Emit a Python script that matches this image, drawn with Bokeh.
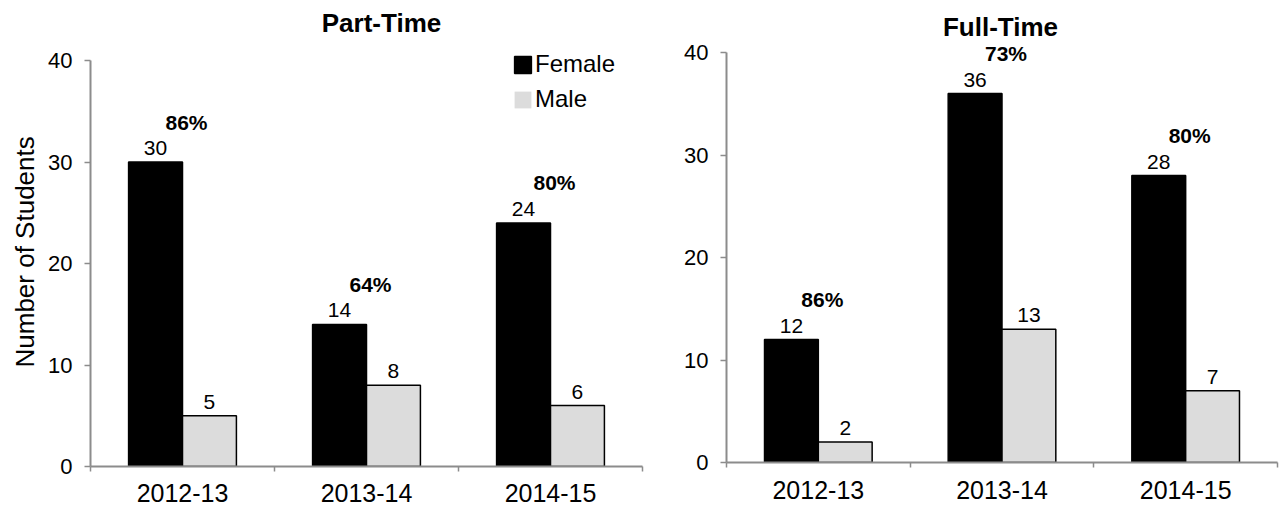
import numpy as np
from bokeh.plotting import figure
from bokeh.layouts import row, column
from bokeh.models import (ColumnDataSource, FixedTicker, Legend, LegendItem,
                          Label, Title)
from bokeh.core.properties import value
from bokeh.embed import file_html
from bokeh.resources import INLINE

# Enrolment by gender, per academic year
years = ["2012-13", "2013-14", "2014-15"]
part_time_female = [30, 14, 24]
part_time_male = [5, 8, 6]
full_time_female = [12, 36, 28]
full_time_male = [2, 13, 7]
y_ticks = [0, 10, 20, 30, 40]
y_max = 40

FONT = "Liberation Sans"
BAR_W = 0.293
FEMALE_COLOR = "#000000"
MALE_COLOR = "#dcdcdc"
AXIS_COLOR = "#8c8c8c"
BASELINE_FIX = 9  # svg text sits a little low with the alphabetic baseline


def build_panel(name, female, male, *, width, border_left, border_right,
                plot_bottom, y_top_px, title_dx, title_baseline, x_standoff,
                y_label=None, legend_at=None):
    centers = np.arange(len(years)) + 0.5
    src = ColumnDataSource(dict(
        cx=centers,
        fx=centers - BAR_W / 2,
        mx=centers + BAR_W / 2,
        female=female,
        male=male,
        flab=[str(v) for v in female],
        mlab=[str(v) for v in male],
        pct=[f"{round(100 * f / (f + m))}%" for f, m in zip(female, male)],
    ))

    # frame runs to the top edge; the axis itself stops at y_max
    px_per_unit = (plot_bottom - y_top_px) / y_max
    y_end = plot_bottom / px_per_unit

    p = figure(width=width, height=508, x_range=(0, len(years)), y_range=(0, y_end),
               output_backend="svg", toolbar_location=None,
               min_border_left=border_left, min_border_right=border_right,
               min_border_top=0, min_border_bottom=508 - plot_bottom)
    p.outline_line_color = None
    p.xgrid.visible = False
    p.ygrid.visible = False
    p.background_fill_color = "white"
    p.border_fill_color = "white"

    # bars
    fbars = p.vbar(x="fx", top="female", width=BAR_W, source=src,
                   fill_color=FEMALE_COLOR, line_color=FEMALE_COLOR, line_width=1.5)
    mfill = p.vbar(x="mx", top="male", width=BAR_W, source=src,
                   fill_color=MALE_COLOR, line_alpha=0)
    p.vbar(x="mx", top="male", width=BAR_W, source=src,
           fill_alpha=0, line_color="black", line_width=1.5)

    # value labels
    txt = dict(text_font=value(FONT), text_font_size="21px", text_color="black",
               text_align="center", text_baseline="alphabetic", source=src)
    p.text(x="fx", y="female", text="flab", y_offset=-5 - BASELINE_FIX, **txt)
    p.text(x="mx", y="male", text="mlab", y_offset=-5 - BASELINE_FIX, **txt)
    p.text(x="cx", y="female", text="pct", x_offset=4, y_offset=-31 - BASELINE_FIX,
           text_font_style="bold", **txt)

    # x axis: category labels between boundary ticks
    xa = p.xaxis[0]
    xa.ticker = FixedTicker(ticks=list(centers),
                            minor_ticks=list(range(len(years) + 1)))
    xa.major_label_overrides = {float(c): y for c, y in zip(centers, years)}
    xa.major_tick_line_color = None
    xa.major_tick_out = 0
    xa.major_tick_in = 0
    xa.minor_tick_line_color = AXIS_COLOR
    xa.minor_tick_line_width = 1.5
    xa.minor_tick_out = 5
    xa.minor_tick_in = 0
    xa.axis_line_color = AXIS_COLOR
    xa.axis_line_width = 2
    xa.major_label_text_font = FONT
    xa.major_label_text_font_size = "25px"
    xa.major_label_text_color = "black"
    xa.major_label_standoff = x_standoff

    ya = p.yaxis[0]
    ya.bounds = (0, y_max)
    ya.ticker = FixedTicker(ticks=y_ticks)
    ya.major_tick_line_color = AXIS_COLOR
    ya.major_tick_line_width = 1.5
    ya.major_tick_out = 6
    ya.major_tick_in = 0
    ya.minor_tick_line_color = None
    ya.axis_line_color = AXIS_COLOR
    ya.axis_line_width = 2
    ya.major_label_text_font = FONT
    ya.major_label_text_font_size = "22px"
    ya.major_label_text_color = "black"
    ya.major_label_standoff = 12

    if y_label:
        # vertical caption centred on the 0-40 span of the axis
        p.add_layout(Title(text=y_label, align="left", offset=99, standoff=12,
                           vertical_align="bottom", text_font=FONT,
                           text_font_size="26px", text_font_style="normal",
                           text_color="black"), "left")

    # panel title, placed relative to the frame
    p.add_layout(Label(x=title_dx, y=plot_bottom - title_baseline + BASELINE_FIX,
                       x_units="screen", y_units="screen",
                       text=name, text_font=FONT, text_font_size="26px",
                       text_font_style="bold", text_align="center",
                       text_baseline="alphabetic", text_color="black"))

    if legend_at is not None:
        leg = Legend(items=[LegendItem(label="Female", renderers=[fbars]),
                            LegendItem(label="Male", renderers=[mfill])],
                     location=legend_at, orientation="vertical",
                     glyph_width=21, glyph_height=21, label_height=21,
                     label_standoff=2, spacing=7, padding=0, margin=0,
                     label_text_font=FONT, label_text_font_size="24px",
                     label_text_color="black",
                     background_fill_alpha=0, border_line_alpha=0)
        p.add_layout(leg)
    return p


part = build_panel("Part-Time", part_time_female, part_time_male,
                   width=660, border_left=90, border_right=18,
                   plot_bottom=466, y_top_px=60,
                   title_dx=291, title_baseline=31, x_standoff=12,
                   y_label="Number of Students", legend_at=(422, 353))
full = build_panel("Full-Time", full_time_female, full_time_male,
                   width=619, border_left=66, border_right=2,
                   plot_bottom=462, y_top_px=52,
                   title_dx=274, title_baseline=35, x_standoff=13)

layout = row(column(part), column(full), spacing=0)
open("out.html", "w").write(file_html(layout, INLINE))
